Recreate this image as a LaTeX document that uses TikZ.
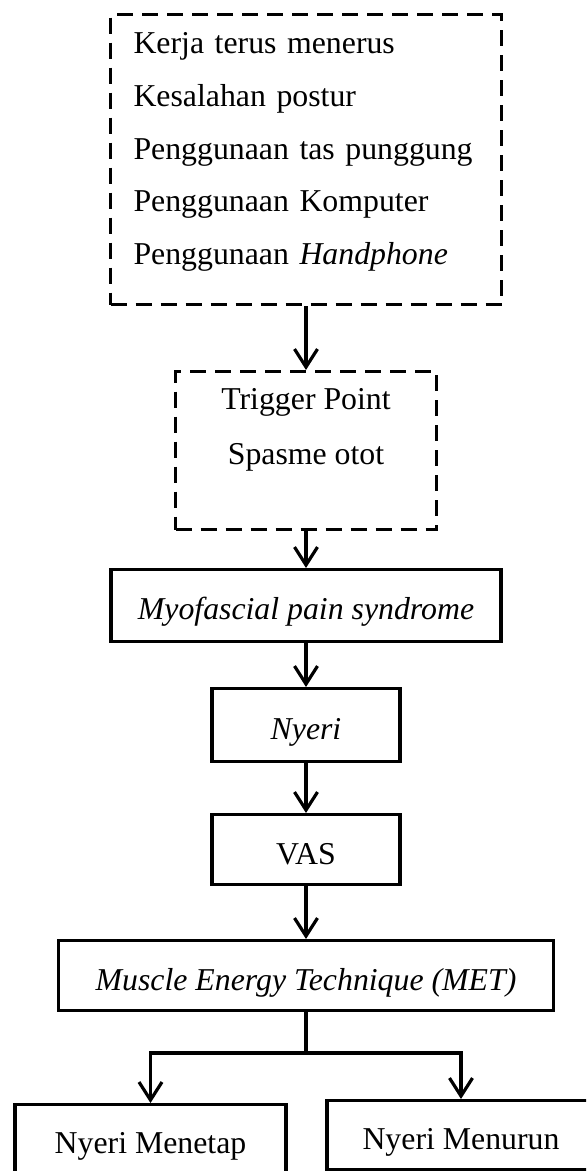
\documentclass[tikz,border=0pt]{standalone}
\usepackage{fontspec}
\setmainfont{Liberation Serif}
\usetikzlibrary{arrows.meta, positioning}
\tikzset{
  every picture/.style={line width=1.6pt},
  box/.style={draw, inner xsep=0pt, inner ysep=0pt, align=center, font=\fontsize{15.9}{19}\selectfont},
  dbox/.style={box, dash pattern=on 8pt off 4.5pt},
  arrow/.style={-{Straight Barb[length=9pt, width=11.5pt]}},
}
\begin{document}
\begin{tikzpicture}[x=0.5pt, y=-0.5pt]
  \useasboundingbox (0,0) rectangle (586,1171);
  \clip (0,0) rectangle (586,1171);
  % causes
  \node[dbox, anchor=north, minimum width=195.5pt, text width=172.5pt, align=left, text height=19.5pt, text depth=125.5pt,
        font=\fontsize{15.9}{26.4}\selectfont] (causes) at (306,13)
    {Kerja terus menerus\\ Kesalahan postur\\ Penggunaan tas punggung\\ Penggunaan Komputer\\ Penggunaan \textit{Handphone}};
  \node[dbox, anchor=north, minimum width=130.5pt, text height=46.5pt, text depth=32.5pt,
        font=\fontsize{15.9}{27.5}\selectfont] (trigger) at (306,370) {Trigger Point\\ Spasme otot};
  % main chain
  \node[box, anchor=north, minimum width=195pt, text height=25pt, text depth=11pt] (mps) at (306,568) {\textit{Myofascial pain syndrome}};
  \node[box, anchor=north, minimum width=94pt, text height=25.5pt, text depth=11pt] (nyeri) at (306,687) {\textit{Nyeri}};
  \node[box, anchor=north, minimum width=94pt, text height=25pt, text depth=10pt] (vas) at (306,813) {VAS};
  \node[box, anchor=north, minimum width=247.5pt, text height=25pt, text depth=10pt] (met) at (306,939) {\textit{Muscle Energy Technique (MET)}};
  % outcomes
  \node[box, anchor=north, minimum width=135.5pt, text height=24.5pt, text depth=14.5pt] (tetap) at (150.5,1103) {Nyeri Menetap};
  \node[box, anchor=north, minimum width=134pt, text height=24.5pt, text depth=10pt] (turun) at (461,1099) {Nyeri Menurun};
  \draw[arrow] (causes.south) -- (trigger.north);
  \draw[arrow] (trigger.south) -- (mps.north);
  \draw[arrow] (mps.south) -- (nyeri.north);
  \draw[arrow] (nyeri.south) -- (vas.north);
  \draw[arrow] (vas.south) -- (met.north);
  \coordinate (split) at (306,1053);
  \draw (met.south) -- (split);
  \draw[arrow] (split) -| (tetap.north);
  \draw[arrow] (split) -| (turun.north);
\end{tikzpicture}
\end{document}
